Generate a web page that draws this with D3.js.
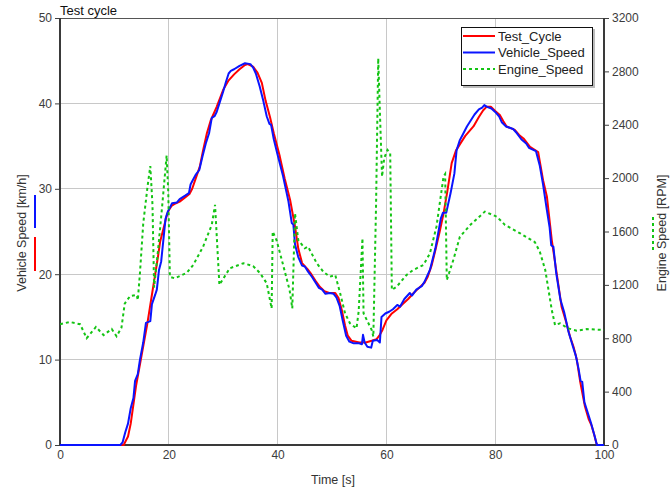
<!DOCTYPE html>
<html><head><meta charset="utf-8">
<script src="https://cdn.jsdelivr.net/npm/d3@7"></script>
<style>body{margin:0;background:#fff;}svg text{font-family:"Liberation Sans",Arial,sans-serif;}</style>
</head><body><svg id="c" width="670" height="488"></svg>
<script>
const xTicks = [0,20,40,60,80,100];
const yTicks = [0,10,20,30,40,50];
const rpmTicks = [0,400,800,1200,1600,2000,2400,2800,3200];
const seriesNames = ["Test_Cycle","Vehicle_Speed","Engine_Speed"];

const testT = [0,11.7,12.5,13,14,15,16,16.5,17,18,18.4,19,19.6,20,20.5,21,22,23,23.8,24.3,25,25.7,26.3,27,27.7,28.8,30,31,32,33,34,34.5,35.5,36.3,37.1,37.8,38.6,39.3,40.4,41.3,42.3,43.2,43.8,44.5,45.5,46.2,47,47.8,48.6,49.5,50.6,51.2,51.8,52.4,52.9,53.6,55,56.2,57.3,58.2,58.8,59.3,60,61,62,63,64,65,66,67,67.6,68.3,69,69.8,70.5,71.2,72,72.8,73.5,74.5,76,77,77.8,78.4,79.2,80,80.9,81.5,82.1,83.6,84.4,85.2,86.4,87.9,88.8,89.5,90.4,91.3,92.2,93,93.75,94.4,95,95.6,96.5,97.2,97.7,98.2,98.6,98.8,100];
const testV = [0,0,1,2.5,7,10.5,14,16,18,22,23.8,25.3,26.8,27.5,28,28.2,28.5,29,29.4,30,31.3,32.6,34.5,36.5,38,39.6,41.6,42.7,43.4,44,44.5,44.6,44.3,43.6,42.4,40.3,38.4,36.5,33.8,31.2,28.7,25.6,23,21.3,20.6,20,19.2,18.5,18,17.8,17.8,17.2,15.8,14,12.8,12.2,12,12,12.2,12.4,12.9,13.5,14.6,15.4,15.9,16.5,17.1,17.8,18.4,19,19.7,21,22.8,25,27.1,29.7,33,34.5,35.2,36.2,37.3,38.4,39.2,39.6,39.6,39.1,38.6,37.9,37.3,36.9,36.3,35.9,34.9,34.3,31,29.1,24,20.1,16.2,14.5,12.7,11.5,10,7.5,4.5,3,2.3,1.2,0.2,0,0];

const vehT = [0,11.1,11.5,12,12.5,13,13.5,13.8,14.3,14.7,15.3,15.8,16.6,16.9,17.5,17.8,18.2,18.6,19,19.4,19.8,20.2,20.6,21.5,22,22.5,23,23.7,24,24.4,25,25.6,26.2,26.8,27.4,27.9,28.4,28.8,29.3,30,30.5,31,31.4,32,33,34,35,35.5,36,36.7,37.3,38,38.5,38.8,39.3,40,41,42,42.6,42.9,43.2,43.8,44.5,45,45.6,46.3,47,47.6,48.2,48.8,49.6,50.3,50.8,51.4,52,52.6,53.2,54,55,55.5,55.7,56,56.5,57.2,57.5,58.3,58.8,59.1,59.8,60.5,61.2,62,62.5,63.3,64.3,64.7,65.5,66.5,67,68,69,70,70.4,71,71.8,72.5,72.9,73.5,74,74.8,75.5,76.2,77,77.6,78,78.5,79.3,80,80.7,81.2,82,83.3,84,84.8,85.7,86.2,87.5,88.2,88.8,89.5,90,90.3,90.7,91.2,92,92.7,93.5,94.3,94.8,95.3,95.7,96,96.4,97,97.6,98.3,98.7,100];
const vehV = [0,0,0.3,1.5,2.5,4.3,5.5,7.5,8.3,10,12,14.3,14.5,16.5,17.6,18.2,20.5,21.5,24,26.5,27.3,27.8,28.3,28.4,28.8,29,29.2,29.5,30.5,31,31.7,32.2,33.8,35.3,36.5,38.3,38.5,39,40,41.4,42.5,43.5,43.8,44,44.4,44.7,44.6,44.2,43.5,42,40.5,38.5,37.6,37.5,35.8,34,31.5,28.5,26,25.8,23.5,22,21,20.9,20.3,19.7,19,18.4,18.2,17.7,17.8,17.7,17.3,16.3,14.5,12.8,12.1,11.9,11.9,11.8,12.9,12,11.5,11.4,12.2,12.3,12,15,15.4,15.6,15.9,16.4,16.2,17.1,17.8,17.5,18.2,18.6,19.1,20.5,23,26.5,27.2,27.2,29.5,31.8,34.5,35.7,36.3,37.3,38,38.7,39.3,39.5,39.8,39.6,39.4,39,38.5,37.8,37.3,37,36.5,35.8,35.3,34.8,34.4,32.7,30.5,27.5,25.5,23.4,23.2,20.2,17,15.5,13.2,11.5,10.5,9,7.5,7.4,5,3.8,2.6,1,0,0];

const engT = [0,1.8,3.7,4.9,6.6,8,9.5,10.4,11.3,11.9,12.9,14.1,14.3,14.7,15.3,16.1,16.6,17.0,17.3,18,18.8,19.6,19.9,20.2,21.1,23.3,24.5,26.3,27.9,28.5,28.9,29.3,31.2,33.7,35.5,36.8,38,38.9,39.1,39.8,41.1,42.2,42.7,43.2,43.8,45,45.6,47.2,48.4,49.6,50.6,51.5,52.4,53.3,54.5,54.9,55.6,55.8,56.4,57.3,57.6,58.1,58.5,58.8,59.2,59.6,60.2,60.7,61,61.9,63.7,64.9,66.8,68,69.2,70.5,70.8,71.1,72.3,73.5,75.4,78.1,80.3,81.8,84.6,87.3,88.2,89.2,89.8,90.4,91,91.9,93.4,95,96.8,100];
const engRPM = [905,922,905,800,885,824,869,815,880,1060,1117,1124,1085,1290,1660,1940,2090,1800,1180,1450,1800,2170,1900,1260,1249,1290,1350,1486,1650,1800,1500,1200,1324,1362,1341,1287,1212,1024,1600,1536,1336,1162,1024,1736,1536,1474,1486,1362,1299,1261,1274,1137,987,912,874,1000,1549,987,937,862,812,1800,2898,2500,2011,2150,2211,2186,1162,1187,1274,1311,1349,1436,1636,2011,2030,1236,1386,1560,1649,1749,1711,1649,1586,1520,1449,1311,1162,1012,899,912,874,857,869,862];

const colors = {red:"#ff0000", blue:"#0a14ff", green:"#14c414"};
const L=60, R=604, T=18, B=445;
const svg = d3.select("#c");
const x = d3.scaleLinear().domain([0,100]).range([L,R]);
const y = d3.scaleLinear().domain([0,50]).range([B,T]);
const y2 = d3.scaleLinear().domain([0,3200]).range([B,T]);

// grid
const g = svg.append("g");
g.selectAll("line.vg").data(xTicks.filter(d=>d>0&&d<100)).join("line")
  .attr("x1",d=>x(d)).attr("x2",d=>x(d)).attr("y1",T).attr("y2",B)
  .attr("stroke","#c8c8c8").attr("stroke-width",1).attr("shape-rendering","crispEdges");
g.selectAll("line.hg").data(yTicks.filter(d=>d>0&&d<50)).join("line")
  .attr("x1",L).attr("x2",R).attr("y1",d=>y(d)).attr("y2",d=>y(d))
  .attr("stroke","#c8c8c8").attr("stroke-width",1).attr("shape-rendering","crispEdges");

// axes
const fs = "12px";
const fmt = d3.format("d");
const ax = svg.append("g").attr("transform",`translate(0,${B})`).call(d3.axisBottom(x).tickValues(xTicks).tickFormat(fmt).tickSize(0).tickPadding(5));
const ay = svg.append("g").attr("transform",`translate(${L},0)`).call(d3.axisLeft(y).tickValues(yTicks).tickFormat(fmt).tickSize(5).tickPadding(3));
const ay2 = svg.append("g").attr("transform",`translate(${R},0)`).call(d3.axisRight(y2).tickValues(rpmTicks).tickFormat(fmt).tickSize(5).tickPadding(3));
[ax,ay,ay2].forEach(a=>{
  a.selectAll("text").attr("font-size",fs).attr("fill","#3c3c3c").attr("font-family","Liberation Sans, Arial, sans-serif");
  a.selectAll(".tick line").attr("stroke","#404040");
  a.select(".domain").remove();
});
// frame
svg.append("rect").attr("x",L+0.5).attr("y",T+0.5).attr("width",R-L-1).attr("height",B-T-1)
  .attr("fill","none").attr("stroke","#555").attr("stroke-width",1);
svg.append("line").attr("x1",L).attr("x2",L).attr("y1",T).attr("y2",B+1).attr("stroke","#3a3a3a").attr("stroke-width",2);
svg.append("line").attr("x1",L).attr("x2",R).attr("y1",B).attr("y2",B).attr("stroke","#3a3a3a").attr("stroke-width",2);
svg.append("line").attr("x1",R).attr("x2",R).attr("y1",T).attr("y2",B+1).attr("stroke","#3a3a3a").attr("stroke-width",2);

// lines
const lineV = d3.line().x(d=>x(d[0])).y(d=>y(d[1]));
const lineR = d3.line().x(d=>x(d[0])).y(d=>y2(d[1]));
svg.append("clipPath").attr("id","clp").append("rect").attr("x",L).attr("y",T).attr("width",R-L).attr("height",B-T+1);
const plot = svg.append("g").attr("clip-path","url(#clp)");
plot.append("path").attr("d",lineV(d3.zip(testT,testV))).attr("fill","none").attr("stroke",colors.red).attr("stroke-width",2).attr("stroke-linejoin","round");
plot.append("path").attr("d",lineV(d3.zip(vehT,vehV))).attr("fill","none").attr("stroke",colors.blue).attr("stroke-width",2).attr("stroke-linejoin","round");
plot.append("path").attr("d",lineR(d3.zip(engT,engRPM))).attr("fill","none").attr("stroke",colors.green).attr("stroke-width",2).attr("stroke-dasharray","3,3");

// titles
svg.append("text").attr("x",L).attr("y",15).attr("font-size","13px").attr("fill","#111").text("Test cycle");
svg.append("text").attr("x",(L+R)/2+1).attr("y",484).attr("text-anchor","middle").attr("font-size","12.5px").attr("fill","#333").text("Time [s]");
svg.append("text").attr("transform","translate(26,233) rotate(-90)").attr("text-anchor","middle").attr("font-size","12.5px").attr("fill","#333").text("Vehicle Speed [km/h]");
svg.append("text").attr("transform","translate(666,233) rotate(-90)").attr("text-anchor","middle").attr("font-size","12.5px").attr("fill","#333").text("Engine Speed [RPM]");
svg.append("line").attr("x1",35).attr("x2",35).attr("y1",195).attr("y2",228).attr("stroke",colors.blue).attr("stroke-width",2);
svg.append("line").attr("x1",35).attr("x2",35).attr("y1",237).attr("y2",271).attr("stroke",colors.red).attr("stroke-width",2);
svg.append("line").attr("x1",653).attr("x2",653).attr("y1",217).attr("y2",250).attr("stroke",colors.green).attr("stroke-width",2).attr("stroke-dasharray","3,3");

// legend
const lg = svg.append("g");
lg.append("rect").attr("x",463).attr("y",29).attr("width",132).attr("height",59).attr("fill","#bbb");
lg.append("rect").attr("x",461.5).attr("y",27.5).attr("width",131).attr("height",58).attr("fill","#fff").attr("stroke","#111").attr("stroke-width",1);
const lcol = [colors.red,colors.blue,colors.green];
seriesNames.forEach((n,i)=>{
  const yy = 36 + i*16.5;
  lg.append("line").attr("x1",463).attr("x2",495).attr("y1",yy).attr("y2",yy).attr("stroke",lcol[i]).attr("stroke-width",2)
    .attr("stroke-dasharray", i==2 ? "3,3" : null);
  lg.append("text").attr("x",498).attr("y",yy+4.5).attr("font-size","13px").attr("fill","#222").text(n);
});
</script></body></html>
